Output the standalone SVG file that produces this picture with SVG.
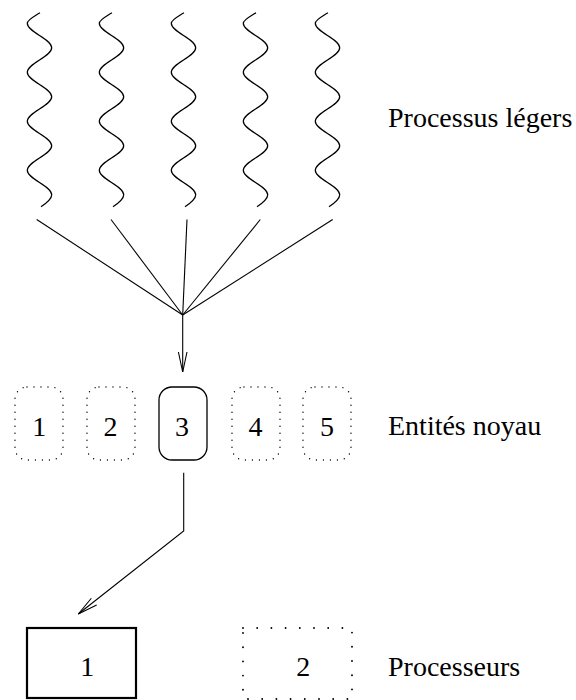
<svg xmlns="http://www.w3.org/2000/svg" xmlns:xlink="http://www.w3.org/1999/xlink" width="576" height="700" viewBox="0 0 576 700">
  <style>
    .wave { fill: none; stroke: #000; stroke-width: 1.25; }
    .edge { fill: none; stroke: #000; stroke-width: 1.1; }
    .dotted { fill: none; stroke: #000; stroke-width: 1.4; stroke-linecap: round; stroke-dasharray: 0 7; }
    .dotted-big { fill: none; stroke: #000; stroke-width: 1.9; stroke-linecap: round; stroke-dasharray: 0 14.2; }
    .solid { fill: none; stroke: #000; stroke-width: 1.3; }
    .solid-big { fill: none; stroke: #000; stroke-width: 2.2; }
    text { font-family: "Liberation Serif", "Times New Roman", serif; font-size: 28px; fill: #000; }
    .num { text-anchor: middle; }
  </style>
  <defs>
    <path id="wavepath" d="M 0.5,12.7 C -4.9,16.2 -12.2,19.8 -12.2,23.3 C -12.2,32.2 12.2,38.9 12.2,47.8 S -12.2,63.4 -12.2,72.3 S 12.2,87.9 12.2,96.8 S -12.2,112.4 -12.2,121.3 S 12.2,136.9 12.2,145.8 S -12.2,161.4 -12.2,170.3 S 12.2,185.9 12.2,194.8 C 12.2,198.8 7.7,202.7 1.5,206.7"/>
    <marker id="arrow" markerUnits="userSpaceOnUse" viewBox="-22 -6 23 12" refX="0" refY="0" markerWidth="23" markerHeight="12" orient="auto" overflow="visible">
      <path d="M -20,-4.3 L 0,0 L -20,4.3" fill="none" stroke="#000" stroke-width="1.1"/>
    </marker>
  </defs>

  <g id="threads">
    <g id="thread1"><use xlink:href="#wavepath" href="#wavepath" class="wave" transform="translate(39.5,0)"/></g>
    <g id="thread2"><use xlink:href="#wavepath" href="#wavepath" class="wave" transform="translate(111.5,0)"/></g>
    <g id="thread3"><use xlink:href="#wavepath" href="#wavepath" class="wave" transform="translate(183.5,0)"/></g>
    <g id="thread4"><use xlink:href="#wavepath" href="#wavepath" class="wave" transform="translate(255.5,0)"/></g>
    <g id="thread5"><use xlink:href="#wavepath" href="#wavepath" class="wave" transform="translate(327.5,0)"/></g>
    <text x="388" y="127">Processus légers</text>
  </g>

  <g id="connectors">
    <line class="edge" x1="36.7" y1="219.5" x2="182.7" y2="315"/>
    <line class="edge" x1="111" y1="219.5" x2="182.7" y2="315"/>
    <line class="edge" x1="187" y1="219.5" x2="182.7" y2="315"/>
    <line class="edge" x1="260.3" y1="219.5" x2="182.7" y2="315"/>
    <line class="edge" x1="332.7" y1="219.5" x2="182.7" y2="315"/>
    <line class="edge" x1="182.7" y1="315" x2="182.7" y2="372" marker-end="url(#arrow)"/>
    <polyline class="edge" points="183.7,472.7 183.7,531 78.3,614" marker-end="url(#arrow)"/>
  </g>

  <g id="kernel1"><rect class="dotted" x="15" y="387" width="48" height="73" rx="12"/><text class="num" x="39.3" y="436">1</text></g>
  <g id="kernel2"><rect class="dotted" x="87" y="387" width="48" height="73" rx="12"/><text class="num" x="110.5" y="436">2</text></g>
  <g id="kernel3"><rect class="solid" x="159" y="387" width="48" height="73" rx="13"/><text class="num" x="182" y="436">3</text></g>
  <g id="kernel4"><rect class="dotted" x="232" y="387" width="48" height="73" rx="12"/><text class="num" x="255.5" y="436">4</text></g>
  <g id="kernel5"><rect class="dotted" x="303" y="387" width="48" height="73" rx="12"/><text class="num" x="327" y="436">5</text></g>
  <g id="label-kernel"><text x="388" y="435">Entités noyau</text></g>

  <g id="cpu1"><rect class="solid-big" x="27" y="628" width="109" height="70"/><text class="num" x="87.3" y="676">1</text></g>
  <g id="cpu2"><rect class="dotted-big" x="243" y="628" width="109" height="71"/><text class="num" x="303.3" y="676">2</text></g>
  <g id="label-cpu"><text x="388" y="676">Processeurs</text></g>
</svg>
